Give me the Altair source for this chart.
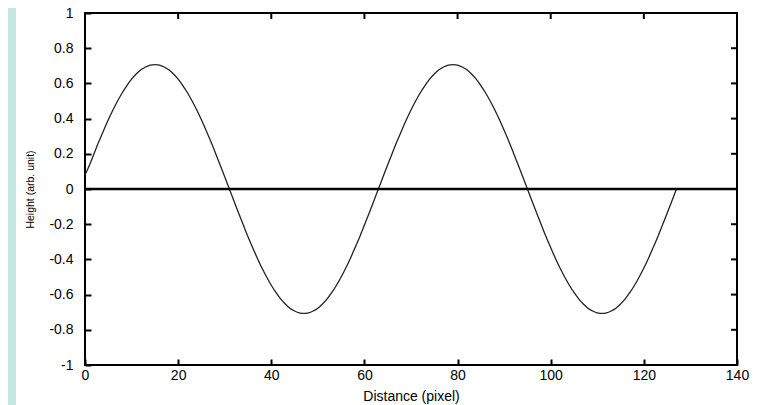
import altair as alt
import pandas as pd

# Distance (pixel) sample positions
distance = list(range(0, 128))

# Height (arb. unit), one value per pixel
arch_up = [0.08, 0.138, 0.205, 0.271, 0.333, 0.393, 0.449, 0.500, 0.547, 0.588, 0.624, 0.653,
           0.677, 0.693, 0.704, 0.707, 0.704, 0.693, 0.677, 0.653, 0.624, 0.588, 0.547, 0.500,
           0.449, 0.393, 0.333, 0.271, 0.205, 0.138, 0.069, 0.0]
arch_down = [-0.069, -0.138, -0.205, -0.271, -0.333, -0.393, -0.449, -0.500, -0.547, -0.588,
             -0.624, -0.653, -0.677, -0.693, -0.704, -0.707, -0.704, -0.693, -0.677, -0.653,
             -0.624, -0.588, -0.547, -0.500, -0.449, -0.393, -0.333, -0.271, -0.205, -0.138,
             -0.069, 0.0]
arch_up2 = [0.069, 0.138, 0.205, 0.271, 0.333, 0.393, 0.449, 0.500, 0.547, 0.588, 0.624, 0.653,
            0.677, 0.693, 0.704, 0.707, 0.704, 0.693, 0.677, 0.653, 0.624, 0.588, 0.547, 0.500,
            0.449, 0.393, 0.333, 0.271, 0.205, 0.138, 0.069, 0.0]
arch_down2 = [-0.069, -0.138, -0.205, -0.271, -0.333, -0.393, -0.449, -0.500, -0.547, -0.588,
              -0.624, -0.653, -0.677, -0.693, -0.704, -0.707, -0.704, -0.693, -0.677, -0.653,
              -0.624, -0.588, -0.547, -0.500, -0.449, -0.393, -0.333, -0.271, -0.205, -0.138,
              -0.069, 0.0]
height = arch_up + arch_down + arch_up2 + arch_down2

x_ticks = [0, 20, 40, 60, 80, 100, 120, 140]
y_ticks = [-1, -0.8, -0.6, -0.4, -0.2, 0, 0.2, 0.4, 0.6, 0.8, 1]

df = pd.DataFrame({"distance": distance, "height": height})
xt_df = pd.DataFrame({"distance": x_ticks})
yt_df = pd.DataFrame({"height": y_ticks})

FONT = "Liberation Sans"
W, H = 652, 352
x_scale = alt.Scale(domain=[0, 140], nice=False, zero=False)
y_scale = alt.Scale(domain=[-1, 1], nice=False, zero=False)

common_tick = dict(offset=-6, domain=False, tickSize=6, tickWidth=2, tickColor="black",
                   grid=False, zindex=1, labelFlush=False, labelOverlap=False)

x_bottom = alt.Axis(orient="bottom", values=x_ticks, labelPadding=3, labelFont=FONT,
                    labelFontSize=14, labelColor="black", title="Distance (pixel)",
                    titleFont=FONT, titleFontSize=14, titleFontWeight="normal",
                    titleColor="black", titlePadding=7, **common_tick)
y_left = alt.Axis(orient="left", values=y_ticks, labelPadding=12, labelFont=FONT,
                  labelFontSize=14, labelColor="black", labelExpr="'' + datum.value",
                  title="Height (arb. unit)", titleFont=FONT, titleFontSize=10.5,
                  titleFontWeight="normal", titleColor="black", titlePadding=13, **common_tick)

curve = alt.Chart(df).mark_line(color="#222222", strokeWidth=1.3, interpolate="monotone").encode(
    x=alt.X("distance:Q", scale=x_scale, axis=x_bottom),
    y=alt.Y("height:Q", scale=y_scale, axis=y_left),
)

# mirrored inward ticks on the top and right edges
top_ticks = alt.Chart(xt_df).mark_rule(color="black", strokeWidth=2).encode(
    x=alt.X("distance:Q", scale=x_scale, axis=None),
    y=alt.value(0), y2=alt.value(6),
)
right_ticks = alt.Chart(yt_df).mark_rule(color="black", strokeWidth=2).encode(
    y=alt.Y("height:Q", scale=y_scale, axis=None),
    x=alt.value(W - 6), x2=alt.value(W),
)

zero_line = alt.Chart(alt.Data(values=[{}])).mark_rule(color="black", strokeWidth=2.5).encode(
    y=alt.datum(0, scale=y_scale, axis=None),
)

strip = alt.Chart(alt.Data(values=[{}])).mark_rect(color="#c4e8df").encode(
    x=alt.value(-77), x2=alt.value(-69), y=alt.value(-5), y2=alt.value(420),
)

chart = alt.layer(strip, curve, zero_line, top_ticks, right_ticks).resolve_axis(
    x="independent", y="independent"
).properties(
    width=W, height=H,
    autosize=alt.AutoSizeParams(type="none"),
    padding={"left": 77, "top": 5, "right": 14, "bottom": 42},
    background="white",
).configure_view(stroke="black", strokeWidth=2)

chart.save("out.html", embed_options={"renderer": "svg", "actions": False})
